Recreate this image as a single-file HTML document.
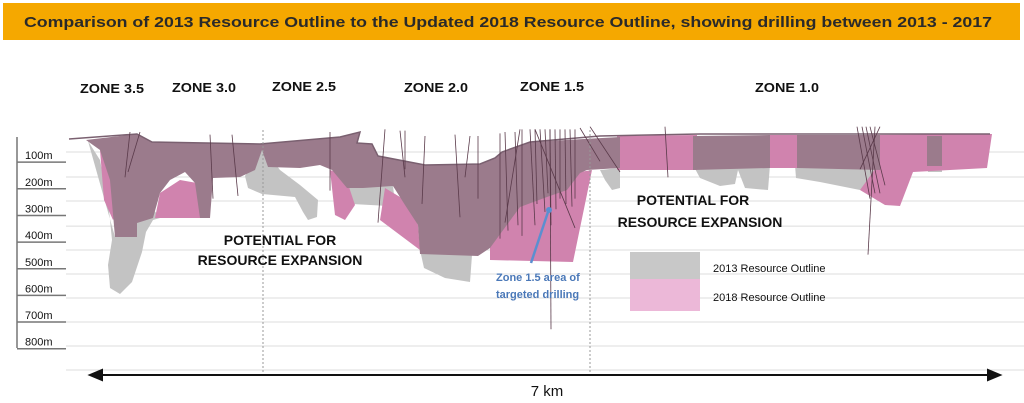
<!DOCTYPE html>
<html><head><meta charset="utf-8"><style>
html,body{margin:0;padding:0;background:#fff;}
svg{display:block;font-family:"Liberation Sans",sans-serif;}
</style></head><body>
<svg id="chart" width="1024" height="403" viewBox="0 0 1024 403" xmlns="http://www.w3.org/2000/svg">
<rect x="3" y="3" width="1017" height="37" fill="#f5a800"/>
<text x="508" y="27" text-anchor="middle" font-size="15" font-weight="bold" fill="#2a2a2a" textLength="968" lengthAdjust="spacingAndGlyphs">Comparison of 2013 Resource Outline to the Updated 2018 Resource Outline, showing drilling between 2013 - 2017</text>
<g id="grid"></g>
<g id="axis">
<line x1="17" y1="137" x2="17" y2="348" stroke="#777" stroke-width="1.5"/>
</g>
<g font-size="13" font-weight="bold" fill="#111">
<text x="80" y="93" textLength="64" lengthAdjust="spacingAndGlyphs">ZONE 3.5</text>
<text x="172" y="92" textLength="64" lengthAdjust="spacingAndGlyphs">ZONE 3.0</text>
<text x="272" y="91" textLength="64" lengthAdjust="spacingAndGlyphs">ZONE 2.5</text>
<text x="404" y="92" textLength="64" lengthAdjust="spacingAndGlyphs">ZONE 2.0</text>
<text x="520" y="91" textLength="64" lengthAdjust="spacingAndGlyphs">ZONE 1.5</text>
<text x="755" y="92" textLength="64" lengthAdjust="spacingAndGlyphs">ZONE 1.0</text>
</g>
<g fill="#c3c3c3">
<path d="M88,141 L100,160 L108,200 L112,240 L108,265 L110,288 L120,294 L132,282 L142,252 L146,232 L153,220 L160,218 L150,205 L115,237 Z"/>
<path d="M245,176 L248,188 L262,194 L295,197 L303,212 L308,220 L317,217 L318,200 L300,185 L280,170 L262,146 Z"/>
<path d="M345,187 L393,186 L395,203 L388,206 L352,204 Z"/>
<path d="M420,250 L424,268 L445,278 L470,282 L472,255 Z"/>
<path d="M600,170 L605,180 L612,190 L620,188 L620,168 Z"/>
<path d="M693,165 L700,178 L720,186 L735,184 L738,170 L745,188 L768,190 L770,165 Z"/>
<path d="M795,165 L796,178 L820,182 L860,190 L880,188 L882,165 Z"/>
<path d="M927,165 L928,172 L942,172 L942,165 Z"/>
</g>
<g fill="#d083ae">
<path d="M100,150 L104,200 L113,220 L118,210 L112,160 Z"/>
<path d="M155,218 L160,193 L180,180 L197,183 L205,218 Z"/>
<path d="M330,170 L335,215 L345,220 L355,205 L345,175 Z"/>
<path d="M385,188 L405,200 L418,225 L420,250 L380,220 Z"/>
<path d="M490,240 L520,205 L547,195 L567,188 L580,172 L592,170 L573,262 L490,260 Z"/>
<path d="M617,136 L697,135 L697,170 L617,170 Z"/>
<path d="M768,135 L797,135 L797,168 L768,168 Z"/>
<path d="M862,135 L992,134 L987,168 L913,172 L900,206 L885,205 L860,190 L878,165 Z"/>
</g>
<g fill="#9b7b8c">
<path d="M86,140 L137,134 L152,142 L260,144 L340,137 L360,132 L357,143 L372,144 L378,156 L425,165 L480,164 L495,158 L502,152 L530,142 L620,137 L620,168 L587,170 L580,173 L567,190 L547,197 L520,207 L490,248 L478,256 L420,254 L418,225 L405,205 L393,186 L363,188 L347,188 L332,170 L320,165 L300,168 L268,167 L262,150 L255,170 L240,177 L213,178 L210,218 L200,218 L195,183 L185,172 L170,180 L160,193 L153,218 L137,223 L137,237 L115,237 L110,180 L100,150 Z"/>
<path d="M693,136 L770,135 L770,168 L693,170 Z"/>
<path d="M797,135 L880,135 L880,170 L797,168 Z"/>
<path d="M927,136 L942,136 L942,166 L927,166 Z"/>
</g>
<path d="M69,139 L137,134 L152,142 L260,144 L340,137 L360,132 L357,143 L372,144 L378,156 L425,165 L480,164 L495,158 L502,152 L530,142 L600,136 L700,134 L990,134" fill="none" stroke="#7a6070" stroke-width="1.5"/>
<g id="drill" stroke="#5a3a4a" stroke-width="0.8"></g>
<line x1="263" y1="130" x2="263" y2="372" stroke="#999" stroke-dasharray="2,2"/>
<line x1="590" y1="130" x2="590" y2="372" stroke="#999" stroke-dasharray="2,2"/>
<g font-size="14" font-weight="bold" fill="#111" text-anchor="middle">
<text x="280" y="245">POTENTIAL FOR</text><text x="280" y="265">RESOURCE EXPANSION</text></g>
<g font-size="14" font-weight="bold" fill="#111" text-anchor="middle">
<text x="693" y="205">POTENTIAL FOR</text><text x="700" y="227">RESOURCE EXPANSION</text></g>
<line x1="531" y1="263" x2="548" y2="212" stroke="#5b8fd0" stroke-width="2.5"/>
<circle cx="549" cy="210" r="3" fill="#5b8fd0"/>
<g font-size="11" font-weight="bold" fill="#4a78b8">
<text x="496" y="281">Zone 1.5 area of</text><text x="496" y="298">targeted drilling</text></g>
<g>
<rect x="630" y="252" width="70" height="27" fill="#c8c8c8"/>
<rect x="630" y="279" width="70" height="32" fill="#ecb8d8"/>
<text x="713" y="272" font-size="11" fill="#111">2013 Resource Outline</text>
<text x="713" y="301" font-size="11" fill="#111">2018 Resource Outline</text>
</g>
<g stroke="#111" stroke-width="2">
<line x1="96" y1="375" x2="994" y2="375"/>
<path d="M90,375 L102,370 L102,380 Z" fill="#111"/>
<path d="M1000,375 L988,370 L988,380 Z" fill="#111"/>
</g>
<text x="547" y="396" font-size="15" text-anchor="middle" fill="#111">7 km</text>
</svg>
<script>
const depthLabels = ["100m","200m","300m","400m","500m","600m","700m","800m"];
const depthValues = [100,200,300,400,500,600,700,800];
const gridDepths = [105,199,289,383,473,563,653,743,833,923];
// drillholes: [collar x, collar depth, end x, end depth]
const holeStartX = [130,140,210,232,330,385,400,405,425,455,470,478,500,505,515,522,530,535,540,545,550,555,560,565,570,575,535,550,520,580,665,857,862,866,870,875,880,590];
const holeStartD = [30,30,40,40,30,20,25,25,45,40,45,45,35,30,30,20,20,20,20,20,20,20,20,20,20,20,20,20,20,15,10,10,10,10,10,10,10,10];
const holeEndX   = [125,128,213,238,330,378,405,405,422,460,465,478,500,508,518,522,535,537,545,548,551,556,560,566,572,575,575,551,505,600,668,870,875,880,885,868,860,620];
const holeEndD   = [200,180,280,270,250,370,200,170,300,350,200,280,430,400,380,420,380,300,330,260,380,320,280,300,310,280,390,770,370,140,200,280,260,260,230,490,170,180];
const Y0 = 124, PX = 0.2665; // depth 0 → y, px per metre
function yScale(d){ return Y0 + d*PX; }
const NS="http://www.w3.org/2000/svg";
const grid=document.getElementById('grid');
gridDepths.forEach(d=>{
  const l=document.createElementNS(NS,'line');
  
  
  l.setAttribute('x1',66);l.setAttribute('x2',1024);
  l.setAttribute('y1',yScale(d));l.setAttribute('y2',yScale(d));
  l.setAttribute('stroke','#dcdcdc');l.setAttribute('stroke-width','1');
  grid.appendChild(l);
});
const axis=document.getElementById('axis');
depthValues.forEach((d,i)=>{
  const y=yScale(d)+11.5;
  const t=document.createElementNS(NS,'line');
  
  
  t.setAttribute('x1',17);t.setAttribute('x2',66);t.setAttribute('y1',y);t.setAttribute('y2',y);
  t.setAttribute('stroke','#777');t.setAttribute('stroke-width','1.5');
  axis.appendChild(t);
  const tx=document.createElementNS(NS,'text');
  
  
  tx.setAttribute('x',25);tx.setAttribute('y',y-3);
  tx.setAttribute('font-size','11');tx.setAttribute('fill','#111');
  tx.textContent=depthLabels[i];
  axis.appendChild(tx);
});
const drill=document.getElementById('drill');
holeStartX.forEach((x,i)=>{
  const l=document.createElementNS(NS,'line');
  
  
  l.setAttribute('x1',x);l.setAttribute('y1',yScale(holeStartD[i]));
  l.setAttribute('x2',holeEndX[i]);l.setAttribute('y2',yScale(holeEndD[i]));
  drill.appendChild(l);
});
</script>
</body></html>
